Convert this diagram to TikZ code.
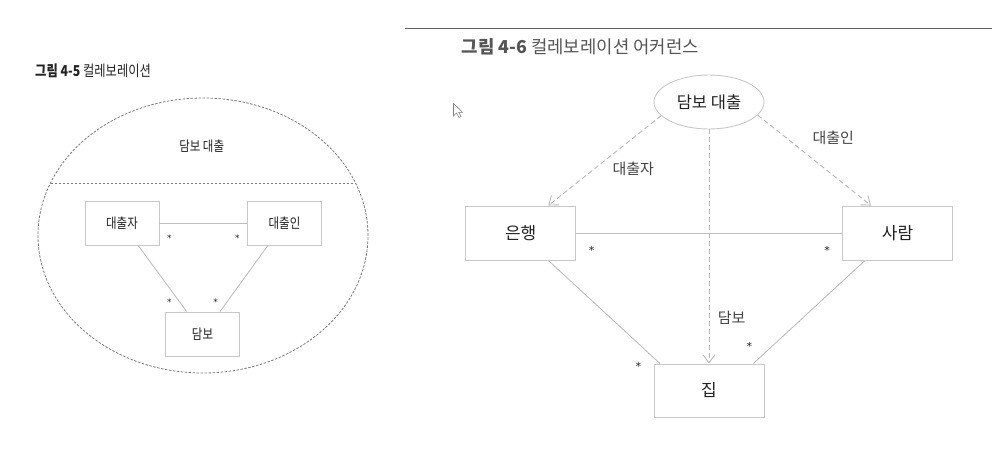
\documentclass[tikz,border=0pt]{standalone}
\usepackage{graphicx}
\usepackage{fontspec}
\setmainfont{Noto Sans CJK KR}
\newfontfamily\starfont{DejaVu Sans}
\usetikzlibrary{shapes.geometric,arrows.meta,calc}
\definecolor{boxgray}{HTML}{C8C8C8}
\definecolor{linegray}{HTML}{BEBEBE}
\definecolor{dashgray}{HTML}{B8B8B8}
\definecolor{ellgray}{HTML}{7A7A7A}
\definecolor{titlegray}{HTML}{555555}
\definecolor{rulegray}{HTML}{606060}
\definecolor{textdark}{HTML}{222222}
\definecolor{labelgray}{HTML}{444444}
\newcommand{\condtext}[1]{\scalebox{0.82}[1]{#1}}
\begin{document}
\begin{tikzpicture}[x=1pt,y=-1pt,
  classbox/.style={draw=boxgray, line width=0.9pt, rectangle, minimum width=110pt, minimum height=54pt, inner sep=0pt, text=textdark, font=\fontsize{17}{17}\selectfont},
  smallbox/.style={draw=boxgray, line width=0.9pt, rectangle, minimum width=74pt, minimum height=44pt, inner sep=0pt, text=textdark},
  assoc/.style={draw=linegray, line width=0.9pt},
  depend/.style={draw=dashgray, line width=0.9pt, dash pattern=on 5pt off 3pt, -{Straight Barb[length=8pt,width=12pt]}},
  mult/.style={font=\starfont\fontsize{11}{11}\selectfont, text=textdark, inner sep=0pt},
  smallmult/.style={font=\starfont\fontsize{9}{9}\selectfont, text=textdark, inner sep=0pt},
  rolelabel/.style={font=\fontsize{15}{15}\selectfont, text=labelgray, inner sep=0pt},
  colldash/.style={draw=ellgray, line width=0.8pt, dash pattern=on 2.5pt off 1.5pt},
  lefttext/.style={inner sep=0pt, text=textdark},
]
\useasboundingbox (0,0) rectangle (1008,469);

% ---------------- left figure ----------------
\node[anchor=west, inner sep=0pt, text=textdark] (t45) at (35,70.7)
  {\condtext{\fontsize{15}{15}\selectfont\textbf{그림 4-5} 컬레보레이션}};
\node[ellipse, colldash, minimum width=330pt, minimum height=275pt, inner sep=0pt] (coll) at (203,235.5) {};
\coordinate (cl) at (50.5,183);
\coordinate (cr) at (355.5,183);
\draw[colldash] (cl) -- (cr);
\node[lefttext] (colltitle) at (201.7,146.7) {\condtext{\fontsize{14}{14}\selectfont 담보 대출}};
\node[smallbox] (lender) at (122,223.3) {\condtext{\fontsize{14}{14}\selectfont 대출자}};
\node[smallbox] (borrower) at (284.5,223.3) {\condtext{\fontsize{14}{14}\selectfont 대출인}};
\node[smallbox] (collat) at (202.5,334) {\condtext{\fontsize{14}{14}\selectfont 담보}};
\draw[assoc] (lender.east) -- (borrower.west);
\draw[assoc] ($(lender.south)+(16.3,0)$) -- ($(collat.north)+(-15.8,0)$);
\draw[assoc] ($(borrower.south)+(-16.8,0)$) -- ($(collat.north)+(17.5,0)$);
\node[smallmult] (s1) at (169.3,237.7) {*};
\node[smallmult] (s2) at (237.3,237.7) {*};
\node[smallmult] (s3) at (169.3,302.3) {*};
\node[smallmult] (s4) at (215.7,302.3) {*};

% ---------------- right figure ----------------
\coordinate (ruleL) at (405,28.3);
\coordinate (ruleR) at (991.7,28.3);
\draw[rulegray, line width=1.3pt] (ruleL) -- (ruleR);
\node[anchor=west, inner sep=0pt, text=titlegray] (t46) at (461.7,46.7)
  {\fontsize{17.8}{17.8}\selectfont\textbf{그림 4-6} 컬레보레이션 어커런스};

\node[ellipse, draw=boxgray, line width=0.9pt, minimum width=110pt, minimum height=54pt, inner sep=0pt, text=textdark, font=\fontsize{16.5}{16.5}\selectfont] (loan) at (709,102) {담보 대출};
\node[classbox] (bank) at (520.7,233) {은행};
\node[classbox] (person) at (897.5,233) {사람};
\node[classbox, minimum height=53pt] (house) at (709,390.5) {집};

\draw[assoc] (bank.east) -- (person.west);
\draw[assoc] ($(bank.south)+(27.6,0)$) -- ($(house.north)+(-49,0)$);
\draw[assoc] ($(person.south)+(-32.5,0)$) -- ($(house.north)+(44.3,0)$);

\draw[depend] (loan.196) -- ($(bank.north)+(27.6,0)$);
\draw[depend] (loan.-15) -- ($(person.north)+(-26.5,0)$);
\draw[depend] (loan.south) -- (house.north);

\node[rolelabel] (r1) at (633.3,169.3) {대출자};
\node[rolelabel] (r2) at (833.3,137.7) {대출인};
\node[rolelabel] (r3) at (731.7,317.7) {담보};

\node[mult] (m1) at (591.7,250.7) {*};
\node[mult] (m2) at (827,250.7) {*};
\node[mult] (m3) at (638.3,366.7) {*};
\node[mult] (m4) at (749.3,346.7) {*};

% mouse cursor
\coordinate (cur) at (453.5,103.5);
\draw[gray, fill=white, line width=0.6pt, line join=miter]
  (cur) -- ++(0,12.5) -- ++(3,-3) -- ++(2.5,4.5) -- ++(2,-1) -- ++(-2.3,-4.2) -- ++(3.8,0) -- cycle;
\end{tikzpicture}
\end{document}
